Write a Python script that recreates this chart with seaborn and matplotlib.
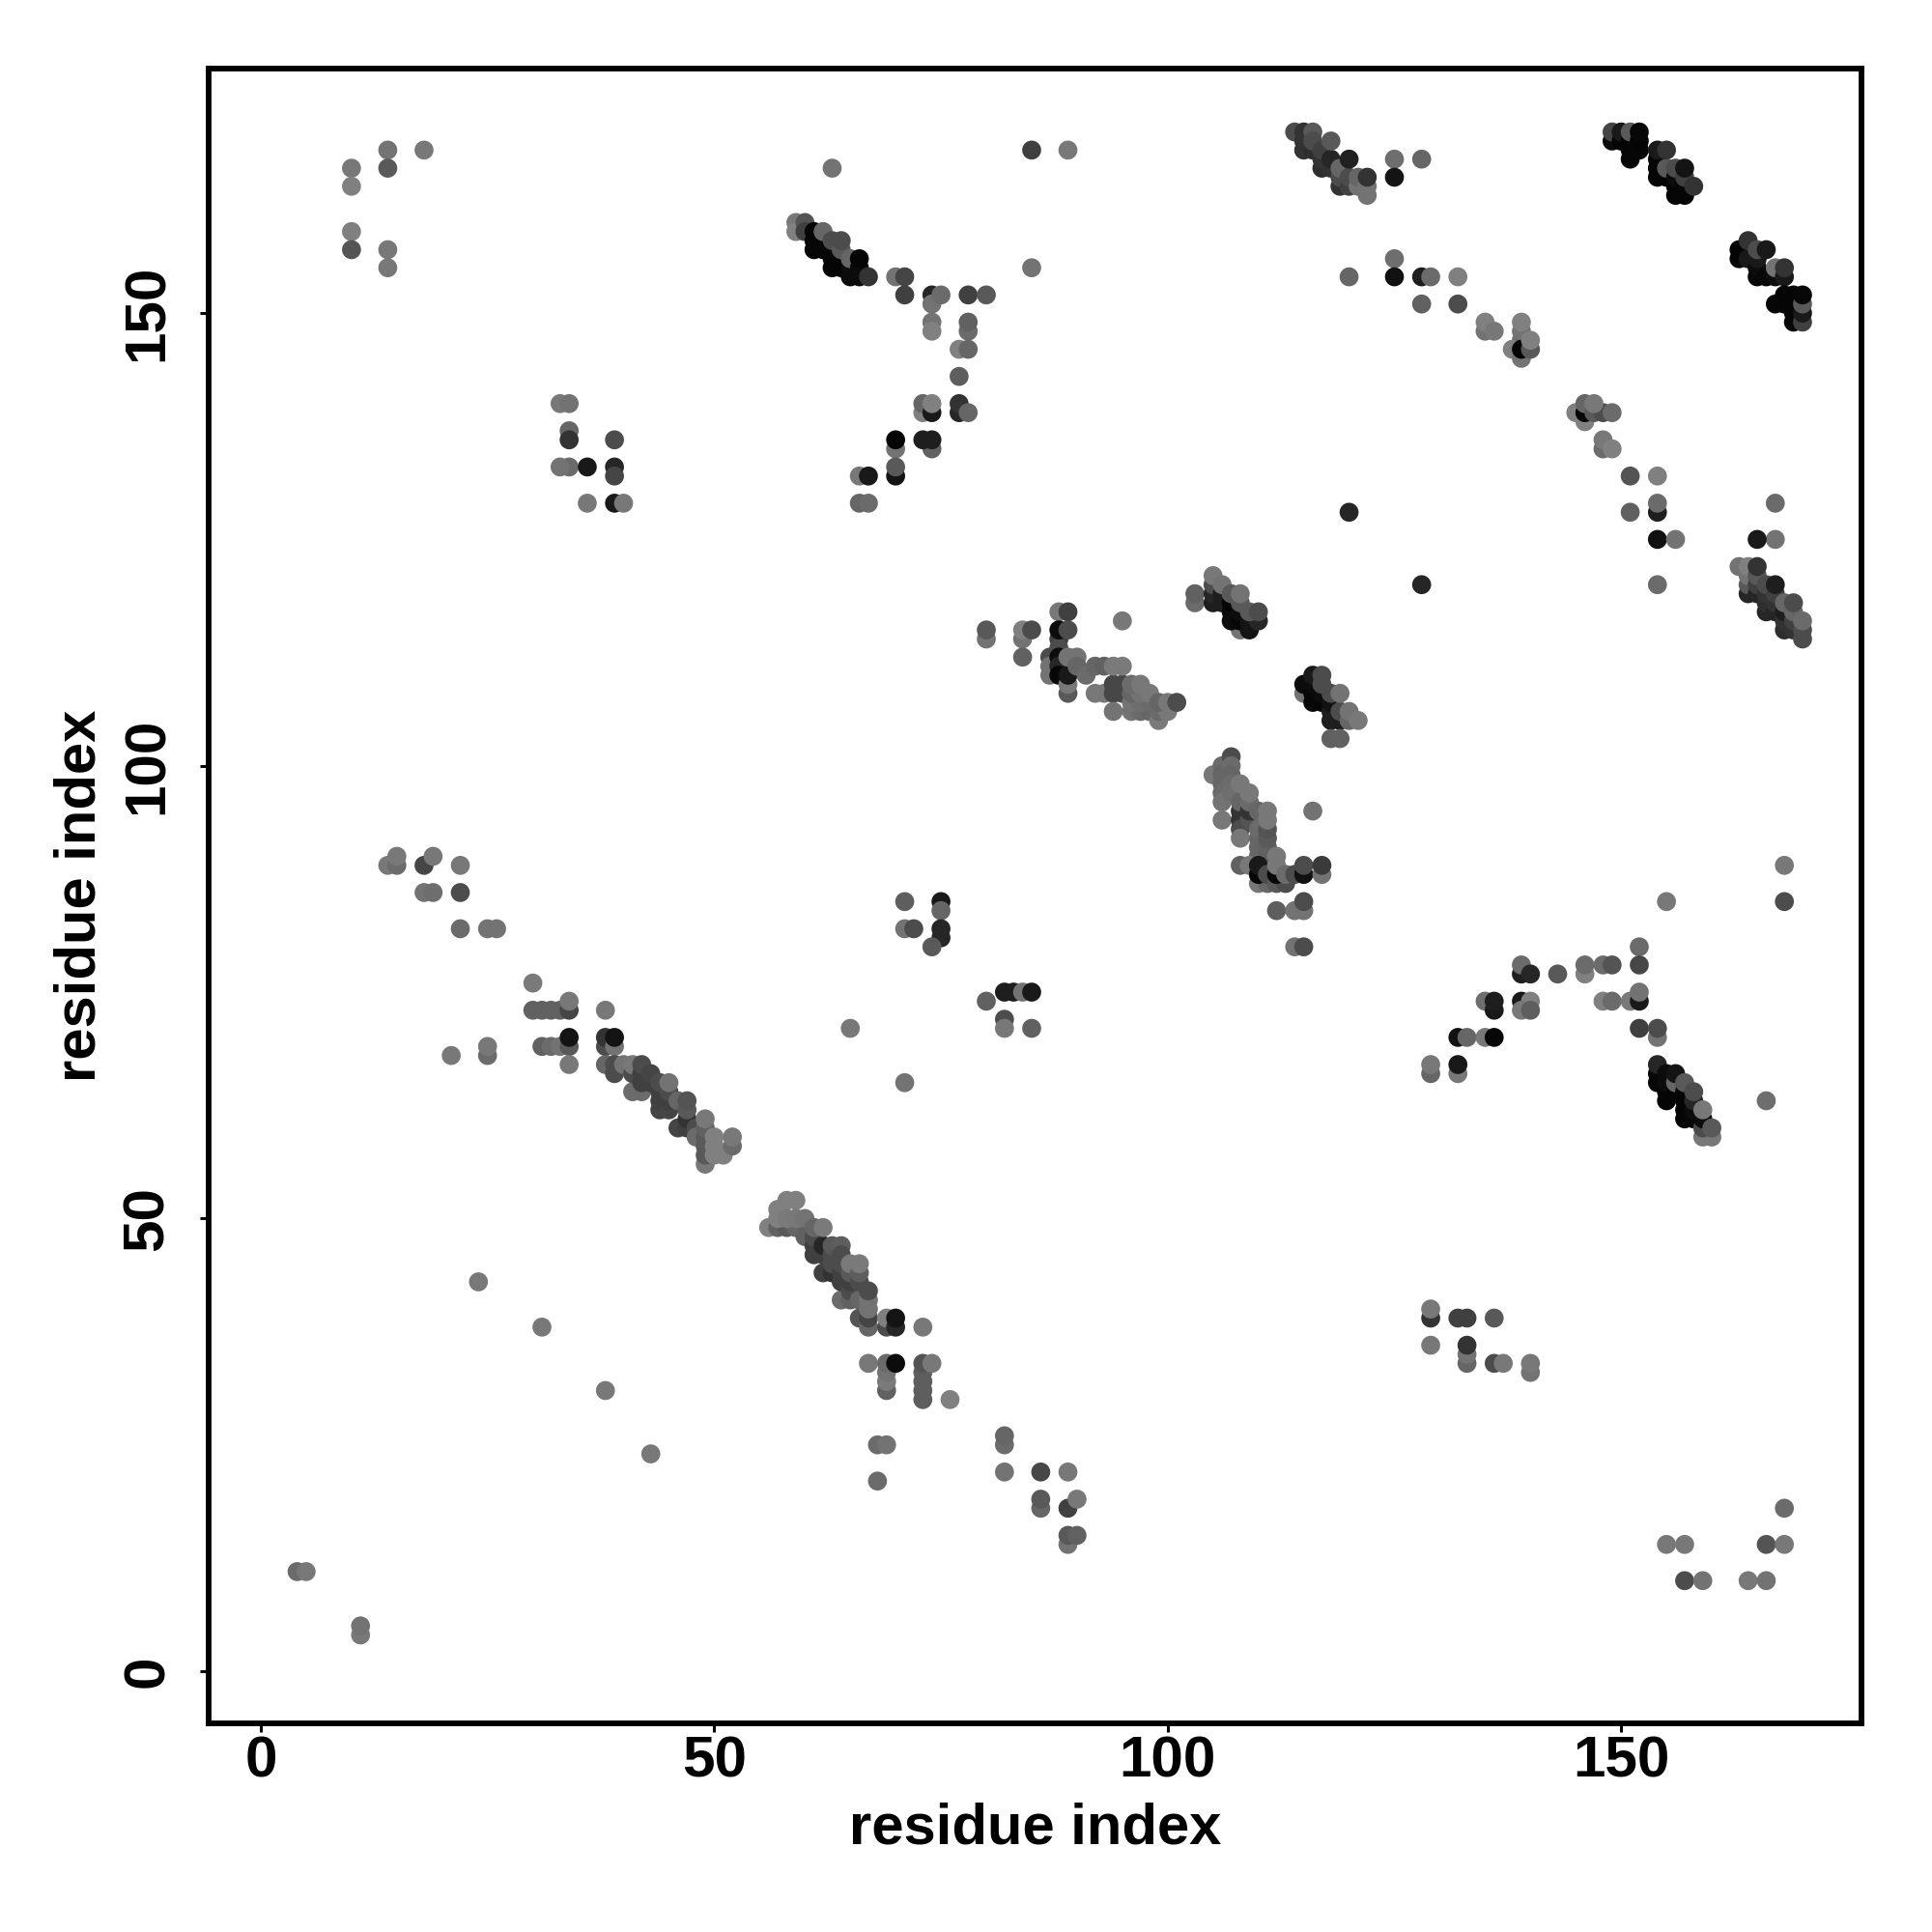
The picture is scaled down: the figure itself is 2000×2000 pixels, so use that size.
import matplotlib
matplotlib.use('Agg')
import matplotlib.pyplot as plt
import pandas as pd
import seaborn as sns

# (residue x, residue y, grey level), grouped by region
top_left = [(10,166,.47),(10,164,.5),(14,168,.45),(18,168,.47),(14,166,.35),(10,159,.5),(10,157,.33),(14,157,.47),(14,155,.47)]
block_34_40 = [(33,140,.47),(34,140,.45),(34,137,.4),(34,136,.2),(34,133,.42),(36,133,.1),(33,133,.45),(39,136,.3),(39,133,.15),(39,132,.27),
               (36,129,.47),(39,129,.1),(40,129,.47)]
diag_60 = [(59,160,.47),(59,159,.5),(60,160,.33),(60,159,.25),(61,159,.02),(61,158,.02),(61,157,.03),(62,157,.03),(62,158,.03),(62,159,.4),
           (63,157,.03),(63,156,.03),(63,155,.02),(63,158,.3),(64,156,.03),(64,155,.02),(64,157,.35),(64,158,.3),(65,155,.05),(65,154,.05),
           (65,156,.4),(66,155,.05),(66,154,.05),(66,156,.02),(67,154,.2)]
arm_70_80 = [(70,154,.45),(71,154,.27),(71,152,.25),(74,152,.15),(74,151,.45),(75,152,.42),(78,152,.25),(80,152,.35),(74,149,.45),(74,148,.5),
             (78,148,.42),(78,149,.38),(77,146,.5),(78,146,.4),(77,143,.37),(73,139,.5),(73,140,.4),(74,139,.1),(74,140,.5),(77,139,.15),
             (77,140,.2),(78,139,.4),(70,135,.45),(70,136,.02),(74,135,.38),(73,136,.12),(74,136,.12),(70,132,.08),(70,133,.35),(66,132,.47),
             (67,132,.1),(66,129,.4),(67,129,.42),(85,155,.45),(85,168,.25),(89,168,.47),(63,166,.45)]
diag_115 = [(114,170,.3),(115,170,.2),(115,169,.2),(115,168,.2),(116,168,.18),(116,170,.35),(116,169,.3),(117,166,.18),(117,167,.2),(117,168,.25),
            (118,166,.2),(118,167,.15),(118,169,.35),(119,164,.2),(119,165,.3),(119,166,.4),(120,164,.25),(120,165,.3),(120,167,.13),(121,164,.45),
            (121,165,.4),(122,163,.45),(122,164,.45),(122,165,.2),(125,167,.43),(128,167,.4),(125,165,.08)]
chain_125_140 = [(125,156,.43),(120,154,.4),(125,154,.07),(128,154,.12),(129,154,.42),(132,154,.5),(128,151,.38),(132,151,.3),(135,148,.45),(135,149,.5),
                 (136,148,.47),(139,147,.42),(139,148,.45),(139,149,.5),(138,146,.5),(139,145,.45),(139,146,.02),(140,146,.35),(140,147,.5)]
diag_150 = [(149,169,.05),(149,170,.27),(150,169,.02),(150,170,.1),(151,167,.02),(151,168,.02),(151,169,.02),(151,170,.35),(152,168,.03),(152,169,.02),
            (152,170,.03),(154,165,.02),(154,166,.02),(154,167,.02),(154,168,.1),(155,165,.02),(155,166,.35),(155,168,.2),(156,163,.02),(156,164,.02),
            (156,165,.05),(156,166,.3),(157,163,.02),(157,164,.02),(157,165,.25),(157,166,.08),(158,164,.2)]
diag_165 = [(163,157,.02),(163,156,.02),(164,156,.1),(164,158,.2),(165,154,.03),(165,155,.05),(165,156,.1),(165,157,.3),(166,154,.03),(166,157,.1),
            (167,154,.05),(167,155,.45),(168,154,.1),(168,155,.2),(167,151,.03),(168,151,.02),(168,152,.02),(169,149,.03),(169,150,.03),(169,151,.02),
            (169,152,.02),(170,149,.25),(170,150,.1),(170,151,.35),(170,152,.03)]
chain_145_157 = [(145,139,.5),(146,138,.5),(146,139,.02),(146,140,.4),(147,139,.35),(148,139,.3),(149,139,.42),(147,140,.47),(148,135,.42),(148,136,.47),
                 (149,135,.5),(151,132,.33),(154,132,.5),(154,128,.12),(154,129,.42),(151,128,.38),(154,125,.07),(156,125,.45),(167,129,.42),(167,125,.45),
                 (165,125,.1),(120,128,.15),(128,120,.15),(154,120,.42)]
diag_167 = [(164,119,.15),(164,120,.35),(164,121,.45),(163,122,.45),(164,122,.5),(165,119,.15),(165,120,.25),(165,121,.35),(165,122,.2),(166,117,.15),
            (166,118,.18),(166,119,.2),(166,120,.3),(167,117,.15),(167,118,.2),(167,119,.25),(167,120,.12),(168,115,.18),(168,116,.2),(168,117,.12),
            (168,118,.4),(169,115,.2),(169,116,.25),(169,117,.4),(169,118,.3),(170,114,.3),(170,115,.3),(170,116,.42)]
patch_80_90 = [(80,114,.45),(80,115,.35),(84,114,.45),(84,115,.5),(85,115,.3),(84,112,.38),(88,117,.47),(89,117,.25),(88,114,.25),(88,113,.3),
               (88,115,.05),(89,115,.3),(87,112,.3),(87,111,.45),(87,110,.45),(88,112,.05),(88,111,.15),(88,110,.03),(89,108,.35),(89,109,.47),
               (89,110,.1),(89,112,.45),(90,112,.45),(90,111,.4),(95,116,.47)]
arm_90_101 = [(91,110,.42),(92,111,.4),(93,111,.38),(92,108,.47),(93,108,.47),(94,108,.28),(94,109,.28),(95,108,.28),(95,109,.28),(94,111,.48),
              (95,111,.48),(94,106,.45),(96,106,.45),(97,106,.42),(98,106,.4),(96,107,.45),(97,107,.43),(98,107,.42),(96,108,.4),(97,108,.45),
              (98,108,.47),(96,109,.42),(97,109,.47),(99,105,.48),(99,106,.42),(100,106,.47),(99,107,.4),(100,107,.47),(101,107,.3)]
block_105 = [(103,118,.42),(103,119,.38),(105,118,.12),(105,119,.15),(105,120,.3),(105,121,.47),(106,118,.12),(106,119,.12),(106,120,.45),(108,115,.45),
             (107,116,.05),(107,117,.05),(107,118,.02),(107,119,.35),(108,116,.03),(108,117,.05),(108,118,.35),(108,119,.45),(109,115,.08),(109,116,.08),
             (110,116,.15),(109,117,.35),(110,117,.3)]
block_116 = [(115,108,.45),(115,109,.05),(116,107,.03),(116,108,.03),(116,109,.05),(116,110,.1),(117,107,.03),(117,108,.05),(117,109,.3),(117,110,.3),
             (118,105,.12),(118,106,.12),(118,107,.07),(118,108,.3),(119,105,.12),(119,106,.3),(119,108,.45),(120,105,.4),(120,106,.45),(121,105,.47),
             (118,103,.38),(119,103,.38)]
column_107 = [(105,99,.47),(106,100,.42),(106,99,.4),(106,98,.4),(106,97,.42),(106,96,.45),(106,94,.47),(107,101,.3),(107,100,.42),(107,99,.4),
              (107,98,.42),(107,97,.43),(108,95,.2),(108,94,.2),(108,93,.3),(108,96,.4),(108,98,.47),(108,92,.47),(109,94,.33),(109,95,.2),
              (109,96,.42),(109,97,.47)]
column_111 = [(110,92,.4),(110,91,.4),(110,90,.4),(110,93,.42),(110,95,.4),(111,90,.38),(111,91,.38),(111,92,.35),(111,93,.33),(111,94,.47),
              (111,95,.47),(108,89,.38),(109,89,.47),(110,87,.47),(111,87,.4),(110,88,.03),(110,89,.1),(111,88,.3),(112,87,.35),(113,87,.3),
              (112,88,.03),(112,89,.47),(112,90,.47),(113,88,.42),(114,88,.3),(115,88,.07),(115,89,.3),(117,88,.45),(117,89,.23),(116,95,.45),
              (112,84,.37),(114,84,.45),(115,84,.45),(115,85,.3),(114,80,.45),(115,80,.3)]
mid_75 = [(71,85,.37),(75,85,.1),(75,84,.4),(71,82,.45),(72,82,.3),(75,82,.15),(75,81,.15),(74,80,.35),(80,74,.38),(82,75,.12),
          (83,75,.12),(84,75,.45),(85,75,.1),(82,72,.3),(82,71,.47),(85,71,.38),(65,71,.47),(71,65,.45)]
arm_129_150 = [(129,66,.4),(129,67,.47),(132,66,.47),(132,67,.1),(132,70,.07),(133,70,.4),(135,70,.47),(136,70,.03),(135,74,.43),(136,73,.1),
               (136,74,.12),(139,74,.1),(140,74,.5),(139,73,.47),(140,73,.37),(139,77,.12),(139,78,.42),(140,77,.15),(143,77,.35),(146,77,.5),
               (146,78,.42),(148,78,.42),(149,78,.33),(148,74,.5),(149,74,.42),(151,74,.47),(152,74,.1),(152,75,.45),(152,80,.42),(152,78,.28),
               (152,71,.25),(154,70,.45),(154,71,.3),(155,85,.47),(168,89,.47),(168,85,.3),(166,63,.43)]
diag_156 = [(154,65,.03),(154,66,.03),(154,67,.15),(155,63,.02),(155,64,.02),(155,65,.05),(155,66,.05),(156,64,.02),(156,65,.4),(156,66,.08),
            (157,61,.02),(157,62,.02),(157,63,.02),(157,64,.02),(157,65,.35),(158,61,.03),(158,62,.05),(158,63,.15),(158,64,.3),(159,59,.47),
            (160,59,.47),(159,60,.3),(159,61,.05),(159,62,.47),(160,60,.35)]
block_130 = [(129,39,.2),(129,40,.47),(129,36,.47),(132,39,.25),(133,39,.25),(133,34,.4),(133,35,.45),(133,36,.2),(136,39,.35),(136,34,.3),
             (137,34,.47),(140,33,.45),(140,34,.47)]
corner = [(155,14,.47),(157,14,.47),(157,10,.3),(159,10,.45),(164,10,.47),(166,10,.45),(166,14,.33),(168,14,.47),(168,18,.42),(4,11,.42),
          (5,11,.47),(11,4,.47),(11,5,.45),(24,43,.47),(31,38,.47),(38,31,.47),(43,24,.47)]
diag_60_down = [(56,49,.5),(57,49,.38),(58,49,.35),(59,49,.4),(57,51,.5),(57,50,.5),(58,52,.5),(59,52,.5),(58,50,.48),(59,50,.47),
                (60,50,.45),(60,48,.38),(61,46,.25),(61,47,.25),(61,48,.3),(61,49,.4),(62,44,.25),(62,46,.25),(62,47,.15),(62,49,.48),
                (63,44,.2),(63,45,.3),(63,46,.3),(63,47,.35),(64,47,.37),(64,41,.42),(64,43,.25),(64,44,.25),(64,45,.3),(64,46,.3),
                (65,41,.38),(65,42,.3),(65,43,.25),(65,44,.35),(65,45,.48),(66,39,.33),(66,41,.4),(66,43,.3),(66,44,.37),(66,45,.48),
                (67,38,.4),(67,39,.27),(67,40,.45),(67,41,.45),(67,42,.3),(69,38,.3),(69,39,.5),(70,38,.15),(70,39,.08),(73,38,.47)]
block_70 = [(67,34,.47),(69,31,.38),(69,32,.48),(69,33,.45),(69,34,.42),(70,34,.05),(73,30,.37),(73,31,.37),(73,32,.37),(73,33,.37),
            (73,34,.33),(74,34,.47),(76,30,.5),(68,25,.42),(69,25,.45),(68,21,.42)]
block_85 = [(82,25,.42),(82,26,.4),(82,22,.45),(86,22,.28),(89,22,.47),(86,18,.4),(86,19,.35),(89,18,.25),(90,19,.47),(89,14,.45),
            (89,15,.35),(90,15,.38)]
block_30 = [(30,76,.48),(30,73,.38),(31,73,.38),(32,73,.38),(33,73,.38),(34,73,.27),(34,74,.47),(38,73,.47),(31,69,.38),(32,69,.42),
            (33,69,.45),(34,69,.35),(34,70,.08),(34,67,.47),(38,69,.3),(38,70,.2),(39,69,.45),(39,70,.08)]
diag_45 = [(38,67,.4),(39,66,.3),(39,67,.3),(40,67,.45),(41,64,.42),(41,66,.3),(41,67,.47),(42,64,.42),(42,65,.25),(42,66,.25),
           (42,67,.3),(43,65,.25),(43,66,.27),(44,62,.27),(44,63,.25),(44,64,.25),(44,65,.3),(45,62,.27),(45,63,.25),(45,64,.3),
           (45,65,.45),(46,60,.27),(46,63,.4),(47,60,.25),(47,61,.2),(47,62,.35),(47,63,.33),(48,60,.3),(48,59,.42),(49,56,.47),
           (49,57,.35),(49,58,.35),(49,59,.35),(49,60,.38),(49,61,.47),(50,57,.5),(50,58,.5),(50,59,.5),(51,57,.5),(52,58,.42),
           (52,59,.47)]
left_side = [(21,68,.47),(25,68,.42),(25,69,.47),(14,89,.47),(15,89,.42),(15,90,.47),(18,89,.27),(19,90,.47),(18,86,.45),(19,86,.43),
             (22,89,.47),(22,86,.3),(22,82,.42),(25,82,.45),(26,82,.45)]

groups = [top_left, block_34_40, diag_60, arm_70_80, diag_115, chain_125_140, diag_150, diag_165, chain_145_157, diag_167,
          patch_80_90, arm_90_101, block_105, block_116, column_107, column_111, mid_75, arm_129_150, diag_156, block_130,
          corner, diag_60_down, block_70, block_85, block_30, diag_45, left_side]
df = pd.DataFrame([p for g in groups for p in g], columns=['x', 'y', 'grey'])

sns.set_style('white')
plt.rcParams['font.family'] = ['Liberation Sans', 'DejaVu Sans']

fig = plt.figure(figsize=(10, 10), dpi=200)
ax = fig.add_axes([0.108, 0.108, 0.8555, 0.8565])
sns.scatterplot(data=df, x='x', y='y', hue='grey', palette='gray', hue_norm=(0, 1),
                s=50, linewidth=0, legend=False, ax=ax)
ax.set_xlim(-5.75, 176.5)
ax.set_ylim(-5.76, 177)
ax.set_xticks([0, 50, 100, 150])
ax.set_yticks([0, 50, 100, 150])
ax.tick_params(axis='x', length=3.1, width=1.1, color='black', labelcolor='black', bottom=True, pad=1.3, labelsize=21.7)
ax.tick_params(axis='y', length=3.1, width=1.1, color='black', labelcolor='black', left=True, pad=9.5, labelsize=21.7)
for lab in ax.get_xticklabels() + ax.get_yticklabels():
    lab.set_fontweight('bold')
for lab in ax.get_yticklabels():
    lab.set_rotation(90)
    lab.set_verticalalignment('center')
for s in ax.spines.values():
    s.set_visible(True)
    s.set_color('black')
    s.set_linewidth(2.1)
ax.set_xlabel('residue index', fontsize=21.5, fontweight='bold', color='black', labelpad=5)
ax.set_ylabel('residue index', fontsize=21.5, fontweight='bold', color='black', labelpad=5.5)
fig.savefig('out.png', dpi=200, facecolor='white')
plt.close()
